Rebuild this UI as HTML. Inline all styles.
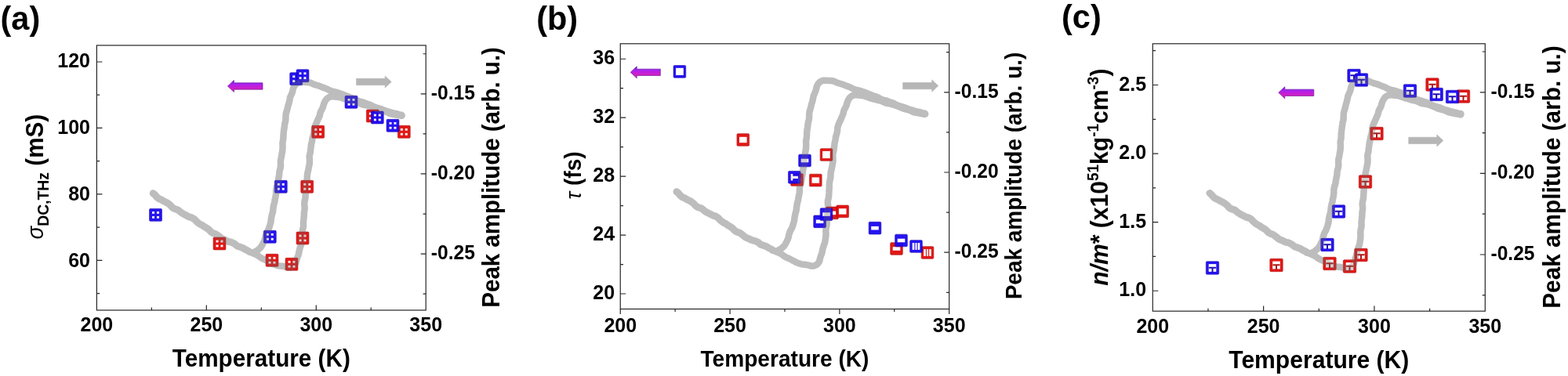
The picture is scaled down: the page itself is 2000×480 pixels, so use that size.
<!DOCTYPE html>
<html lang="en"><head><meta charset="utf-8"><title>Temperature dependence of THz conductivity parameters</title>
<style>html,body{margin:0;padding:0;background:#fff}body{width:2000px;height:480px;overflow:hidden}svg{display:block}</style>
</head><body>
<svg width="2000" height="480" viewBox="0 0 2000 480">
<defs><linearGradient id="purp" x1="0" y1="0" x2="0" y2="1"><stop offset="0" stop-color="#5a12c8"/><stop offset="0.3" stop-color="#a822f0"/><stop offset="0.6" stop-color="#c81ed2"/><stop offset="1" stop-color="#e02890"/></linearGradient></defs>
<rect width="2000" height="480" fill="#fff"/>
<g>
<defs><g id="curve-a" fill="none" stroke-width="8.4" stroke-linecap="round" stroke-linejoin="round">
<path d="M318.2,321.5 L320.4,322.3 L322.7,323.4 L325.1,324.3 L327.5,325.5 L329.8,326.9 L331.9,328.5 L334.1,329.8 L336.2,330.9 L338.3,331.7 L340.4,332.8 L342.6,334.0 L344.9,335.1 L347.3,336.5 L349.8,337.5 L352.3,338.4 L354.8,339.2 L357.4,339.6 L359.9,339.7 L362.4,340.2 L364.9,340.8 L367.3,341.5 L370.1,341.5 L372.5,340.6 L374.5,339.4 L376.2,337.6 L377.5,335.5 L378.0,333.0 L378.7,330.7 L379.4,328.4 L380.3,326.3 L381.0,324.1 L381.4,321.7 L381.9,319.3 L382.5,316.9 L383.4,314.4 L384.4,312.0 L384.9,309.5 L385.3,307.0 L385.6,304.6 L385.8,302.1 L385.9,299.7 L385.7,297.3 L385.9,294.8 L386.2,292.4 L386.9,289.9 L387.1,287.5 L386.9,285.0 L387.0,282.6 L387.3,280.2 L387.5,277.8 L387.8,275.4 L387.8,273.1 L387.9,270.7 L388.4,268.3 L388.7,265.9 L388.5,263.4 L388.2,260.9 L388.3,258.4 L388.8,255.9 L389.3,253.4 L389.6,250.9 L389.7,248.5 L389.8,245.9 L390.0,243.4 L390.3,241.0 L390.0,238.4 L390.2,235.9 L390.6,233.4 L391.2,230.8 L391.8,228.3 L391.7,225.7 L392.0,223.1 L392.3,220.6 L393.0,218.1 L393.5,215.5 L393.9,213.0 L394.5,210.5 L394.9,208.0 L394.9,205.5 L394.9,203.0 L394.6,200.4 L394.9,197.9 L395.6,195.5 L396.0,193.0 L396.2,190.4 L396.6,187.9 L396.8,185.3 L397.4,182.7 L398.0,180.1 L398.3,177.5 L398.9,175.0 L399.7,172.5 L400.2,170.0 L400.6,167.5 L400.7,164.9 L401.4,162.3 L402.3,159.9 L403.4,157.5 L404.5,155.0 L405.5,152.5 L406.7,150.1 L407.8,147.6 L408.3,145.0 L409.1,142.3 L410.4,139.9 L411.7,137.4 L412.5,134.8 L413.2,132.3 L414.2,130.0 L415.4,128.0 L416.8,126.1 L418.7,124.8 L420.7,123.7 L423.0,123.2 L425.3,123.2 L427.6,123.5 L430.1,123.7 L432.5,124.2 L435.1,124.5 L437.5,125.5 L439.9,126.3 L442.4,127.3 L444.9,127.9 L447.4,128.5 L449.9,129.3 L452.4,130.0 L455.0,130.4 L457.5,131.2 L459.9,132.4 L462.2,133.5 L464.8,134.1 L467.5,134.4 L470.0,135.1 L472.6,135.8 L475.1,136.7 L477.5,137.6 L480.0,138.6 L482.4,139.7 L484.9,140.7 L487.4,141.4 L490.0,142.0 L492.5,142.7 L494.8,143.8 L497.1,144.9 L499.6,145.6 L502.0,146.0 L504.4,146.5 L506.6,146.9 L508.9,147.2 L511.1,147.5"/>
<path d="M511.4,147.2 L509.2,146.3 L506.9,145.4 L504.5,144.9 L502.1,144.5 L499.7,143.8 L497.2,143.1 L494.8,142.3 L492.3,141.7 L489.8,140.8 L487.5,139.6 L485.0,138.7 L482.4,138.0 L479.8,137.4 L477.3,136.5 L475.0,135.3 L472.8,134.0 L470.4,133.2 L468.1,132.4 L465.9,131.6 L463.6,130.7 L461.3,130.2 L459.0,129.5 L456.7,128.8 L454.5,127.6 L452.3,126.4 L449.9,125.4 L447.4,124.6 L444.9,123.7 L442.4,122.6 L440.0,121.6 L437.5,120.7 L435.0,119.8 L432.5,118.9 L430.0,118.0 L427.4,117.4 L424.8,116.8 L422.2,116.2 L419.8,115.0 L417.4,113.8 L415.0,112.7 L412.4,111.8 L410.0,110.8 L407.5,109.8 L404.8,109.0 L402.2,108.3 L399.6,107.3 L397.0,106.1 L394.2,105.2 L391.3,105.0 L388.3,104.9 L385.3,104.6 L382.2,104.7 L379.5,105.8 L377.2,107.5 L375.4,109.8 L374.2,112.4 L373.5,115.0 L373.0,117.5 L372.0,119.9 L371.0,122.2 L369.9,124.6 L369.6,127.1 L369.0,129.7 L368.4,132.2 L367.5,134.8 L366.9,137.4 L366.3,139.9 L365.6,142.4 L364.8,144.9 L364.5,147.4 L364.4,150.0 L364.4,152.6 L364.1,155.1 L363.3,157.5 L363.0,160.0 L362.7,162.5 L362.3,165.0 L361.9,167.5 L361.7,170.0 L361.5,172.5 L361.4,175.0 L361.3,177.5 L360.8,180.1 L360.4,182.6 L360.5,185.2 L360.6,187.8 L360.4,190.3 L360.2,192.8 L359.8,195.2 L359.3,197.6 L359.0,200.0 L358.5,202.3 L358.0,204.7 L357.9,207.1 L358.0,209.5 L358.0,212.0 L357.7,214.4 L357.0,216.7 L356.5,219.1 L356.2,221.5 L356.0,224.0 L355.6,226.4 L355.1,228.8 L354.7,231.2 L354.4,233.6 L353.9,235.9 L353.0,238.2 L352.6,240.6 L352.1,242.9 L352.2,245.4 L352.1,247.8 L351.6,250.2 L351.3,252.5 L350.6,254.9 L350.4,257.3 L349.8,259.6 L349.1,261.9 L348.7,264.4 L348.4,266.8 L348.2,269.3 L347.7,271.7 L346.9,274.1 L346.4,276.5 L345.9,279.0 L345.6,281.4 L345.4,283.8 L344.6,286.1 L344.1,288.4 L343.2,290.6 L342.5,292.9 L341.4,295.0 L340.2,297.2 L339.3,299.5 L338.6,301.9 L338.1,304.5 L337.3,306.9 L336.2,309.4 L334.9,311.9 L333.6,314.2 L332.1,316.4 L330.2,318.0 L328.4,319.6 L326.4,320.7 L324.4,321.8 L322.4,322.7"/>
<path d="M195.3,246.8 L197.4,248.4 L199.0,250.5 L200.8,252.3 L202.8,253.7 L205.2,254.6 L207.3,255.9 L209.5,257.1 L211.8,258.2 L214.0,259.4 L216.1,261.0 L218.0,262.7 L219.6,264.7 L221.7,266.1 L224.0,267.0 L226.4,267.7 L228.4,269.1 L230.2,270.6 L232.1,272.0 L234.1,273.2 L236.2,274.2 L238.2,275.3 L240.2,276.4 L242.4,277.2 L244.6,277.8 L246.6,279.0 L248.5,280.3 L250.1,282.2 L251.9,283.8 L253.8,285.4 L256.0,286.6 L258.3,287.7 L260.3,289.3 L262.5,290.4 L264.5,291.8 L266.6,293.2 L268.2,295.1 L270.1,296.7 L272.3,298.0 L274.8,298.7 L277.0,299.9 L279.0,301.5 L281.0,303.1 L283.0,304.7 L285.4,305.7 L287.7,306.7 L289.9,307.9 L292.3,308.7 L294.8,309.2 L297.1,310.2 L299.3,311.3 L301.2,313.0 L303.2,314.4 L305.6,315.0 L307.9,315.9 L310.2,316.7 L312.1,318.1 L314.2,319.2 L316.3,320.1 L318.2,321.5" stroke-width="9"/>
<path d="M511.97,147.39 h0.01" stroke-width="9.8"/>
</g></defs>
<use href="#curve-a" stroke="#e0e0e0"/>
<rect x="123.4" y="57.9" width="419.8" height="338.1" fill="none" stroke="#262626" stroke-width="1.2"/>
<path d="M123.4,374.57 h3.8 M123.4,332.35 h7 M123.4,290.12 h3.8 M123.4,247.9 h7 M123.4,205.68 h3.8 M123.4,163.45 h7 M123.4,121.22 h3.8 M123.4,79 h7 M543.2,68.73 h-3.6 M543.2,119.8 h-6.5 M543.2,170.88 h-3.6 M543.2,221.95 h-6.5 M543.2,273.03 h-3.6 M543.2,324.1 h-6.5 M543.2,375.18 h-3.6 M193.37,396.0 v-3.4 M263.33,396.0 v-6.6 M333.3,396.0 v-3.4 M403.27,396.0 v-6.6 M473.23,396.0 v-3.4" stroke="#262626" stroke-width="1.2" fill="none"/>
<g font-family="'Liberation Sans', Arial, Helvetica, sans-serif" font-weight="bold" fill="#000">
<text transform="translate(115,340.5) scale(1,1.06)" font-size="25" text-anchor="end">60</text>
<text transform="translate(115,255.62) scale(1,1.06)" font-size="25" text-anchor="end">80</text>
<text transform="translate(115,170.73) scale(1,1.06)" font-size="25" text-anchor="end">100</text>
<text transform="translate(115,85.85) scale(1,1.06)" font-size="25" text-anchor="end">120</text>
<text transform="translate(549.8,126.8) scale(1,1.06)" font-size="24.6" text-anchor="start">-0.15</text>
<text transform="translate(549.8,228.95) scale(1,1.06)" font-size="24.6" text-anchor="start">-0.20</text>
<text transform="translate(549.8,331.1) scale(1,1.06)" font-size="24.6" text-anchor="start">-0.25</text>
<text transform="translate(123.4,422.7) scale(1,1.06)" font-size="25" text-anchor="middle">200</text>
<text transform="translate(263.33,422.7) scale(1,1.06)" font-size="25" text-anchor="middle">250</text>
<text transform="translate(403.27,422.7) scale(1,1.06)" font-size="25" text-anchor="middle">300</text>
<text transform="translate(543.2,422.7) scale(1,1.06)" font-size="25" text-anchor="middle">350</text>
<text transform="translate(333.3,467.5) scale(1,1.04)" font-size="29.7" text-anchor="middle">Temperature (K)</text>
<text transform="translate(636.6,226.4) rotate(-90) scale(1,1.04)" font-size="29.5" text-anchor="middle">Peak amplitude (arb. u.)</text>
<text transform="translate(55,225.6) rotate(-90) scale(1,1.04)" font-size="29.7" text-anchor="middle"><tspan font-style="italic" font-weight="normal" font-size="27.5">σ</tspan><tspan font-size="19.4" dy="6.7">DC,THz</tspan><tspan dy="-6.7"> (mS)</tspan></text>
<text transform="translate(0.5,37.5) scale(1,1.03)" font-size="41.5" text-anchor="start">(a)</text>
</g>
<g transform="translate(280,311)" opacity="0.95"><rect x="-7.95" y="-7.95" width="15.9" height="15.9" rx="1.3" fill="#e00c0a" stroke="#a80c0c" stroke-width="0.6"/><rect x="-4.45" y="-4.35" width="3" height="2.8" fill="#fff"/><rect x="-4.45" y="1.55" width="3" height="2.8" fill="#fff"/><rect x="1.45" y="-4.35" width="3" height="2.8" fill="#fff"/><rect x="1.45" y="1.55" width="3" height="2.8" fill="#fff"/></g>
<g transform="translate(347,332.3)" opacity="0.95"><rect x="-7.95" y="-7.95" width="15.9" height="15.9" rx="1.3" fill="#e00c0a" stroke="#a80c0c" stroke-width="0.6"/><rect x="-4.45" y="-4.35" width="3" height="2.8" fill="#fff"/><rect x="-4.45" y="1.55" width="3" height="2.8" fill="#fff"/><rect x="1.45" y="-4.35" width="3" height="2.8" fill="#fff"/><rect x="1.45" y="1.55" width="3" height="2.8" fill="#fff"/></g>
<g transform="translate(372,337.3)" opacity="0.95"><rect x="-7.95" y="-7.95" width="15.9" height="15.9" rx="1.3" fill="#e00c0a" stroke="#a80c0c" stroke-width="0.6"/><rect x="-4.45" y="-4.35" width="3" height="2.8" fill="#fff"/><rect x="-4.45" y="1.55" width="3" height="2.8" fill="#fff"/><rect x="1.45" y="-4.35" width="3" height="2.8" fill="#fff"/><rect x="1.45" y="1.55" width="3" height="2.8" fill="#fff"/></g>
<g transform="translate(386,304)" opacity="0.95"><rect x="-7.95" y="-7.95" width="15.9" height="15.9" rx="1.3" fill="#e00c0a" stroke="#a80c0c" stroke-width="0.6"/><rect x="-4.45" y="-4.35" width="3" height="2.8" fill="#fff"/><rect x="-4.45" y="1.55" width="3" height="2.8" fill="#fff"/><rect x="1.45" y="-4.35" width="3" height="2.8" fill="#fff"/><rect x="1.45" y="1.55" width="3" height="2.8" fill="#fff"/></g>
<g transform="translate(391.7,238.3)" opacity="0.95"><rect x="-7.95" y="-7.95" width="15.9" height="15.9" rx="1.3" fill="#e00c0a" stroke="#a80c0c" stroke-width="0.6"/><rect x="-4.45" y="-4.35" width="3" height="2.8" fill="#fff"/><rect x="-4.45" y="1.55" width="3" height="2.8" fill="#fff"/><rect x="1.45" y="-4.35" width="3" height="2.8" fill="#fff"/><rect x="1.45" y="1.55" width="3" height="2.8" fill="#fff"/></g>
<g transform="translate(405.7,168.3)" opacity="0.95"><rect x="-7.95" y="-7.95" width="15.9" height="15.9" rx="1.3" fill="#e00c0a" stroke="#a80c0c" stroke-width="0.6"/><rect x="-4.45" y="-4.35" width="3" height="2.8" fill="#fff"/><rect x="-4.45" y="1.55" width="3" height="2.8" fill="#fff"/><rect x="1.45" y="-4.35" width="3" height="2.8" fill="#fff"/><rect x="1.45" y="1.55" width="3" height="2.8" fill="#fff"/></g>
<g transform="translate(475.3,148)" opacity="0.95"><rect x="-7.95" y="-7.95" width="15.9" height="15.9" rx="1.3" fill="#e00c0a" stroke="#a80c0c" stroke-width="0.6"/><rect x="-4.45" y="-4.35" width="3" height="2.8" fill="#fff"/><rect x="-4.45" y="1.55" width="3" height="2.8" fill="#fff"/><rect x="1.45" y="-4.35" width="3" height="2.8" fill="#fff"/><rect x="1.45" y="1.55" width="3" height="2.8" fill="#fff"/></g>
<g transform="translate(515.3,168.3)" opacity="0.95"><rect x="-7.95" y="-7.95" width="15.9" height="15.9" rx="1.3" fill="#e00c0a" stroke="#a80c0c" stroke-width="0.6"/><rect x="-4.45" y="-4.35" width="3" height="2.8" fill="#fff"/><rect x="-4.45" y="1.55" width="3" height="2.8" fill="#fff"/><rect x="1.45" y="-4.35" width="3" height="2.8" fill="#fff"/><rect x="1.45" y="1.55" width="3" height="2.8" fill="#fff"/></g>
<g transform="translate(198.5,274.4)" opacity="0.95"><rect x="-7.95" y="-7.95" width="15.9" height="15.9" rx="1.3" fill="#1a08f0" stroke="#1400b0" stroke-width="0.6"/><rect x="-4.45" y="-4.35" width="3" height="2.8" fill="#fff"/><rect x="-4.45" y="1.55" width="3" height="2.8" fill="#fff"/><rect x="1.45" y="-4.35" width="3" height="2.8" fill="#fff"/><rect x="1.45" y="1.55" width="3" height="2.8" fill="#fff"/></g>
<g transform="translate(344.3,302.3)" opacity="0.95"><rect x="-7.95" y="-7.95" width="15.9" height="15.9" rx="1.3" fill="#1a08f0" stroke="#1400b0" stroke-width="0.6"/><rect x="-4.45" y="-4.35" width="3" height="2.8" fill="#fff"/><rect x="-4.45" y="1.55" width="3" height="2.8" fill="#fff"/><rect x="1.45" y="-4.35" width="3" height="2.8" fill="#fff"/><rect x="1.45" y="1.55" width="3" height="2.8" fill="#fff"/></g>
<g transform="translate(358.3,238.3)" opacity="0.95"><rect x="-7.95" y="-7.95" width="15.9" height="15.9" rx="1.3" fill="#1a08f0" stroke="#1400b0" stroke-width="0.6"/><rect x="-4.45" y="-4.35" width="3" height="2.8" fill="#fff"/><rect x="-4.45" y="1.55" width="3" height="2.8" fill="#fff"/><rect x="1.45" y="-4.35" width="3" height="2.8" fill="#fff"/><rect x="1.45" y="1.55" width="3" height="2.8" fill="#fff"/></g>
<g transform="translate(377.7,100.7)" opacity="0.95"><rect x="-7.95" y="-7.95" width="15.9" height="15.9" rx="1.3" fill="#1a08f0" stroke="#1400b0" stroke-width="0.6"/><rect x="-4.45" y="-4.35" width="3" height="2.8" fill="#fff"/><rect x="-4.45" y="1.55" width="3" height="2.8" fill="#fff"/><rect x="1.45" y="-4.35" width="3" height="2.8" fill="#fff"/><rect x="1.45" y="1.55" width="3" height="2.8" fill="#fff"/></g>
<g transform="translate(386,96.7)" opacity="0.95"><rect x="-7.95" y="-7.95" width="15.9" height="15.9" rx="1.3" fill="#1a08f0" stroke="#1400b0" stroke-width="0.6"/><rect x="-4.45" y="-4.35" width="3" height="2.8" fill="#fff"/><rect x="-4.45" y="1.55" width="3" height="2.8" fill="#fff"/><rect x="1.45" y="-4.35" width="3" height="2.8" fill="#fff"/><rect x="1.45" y="1.55" width="3" height="2.8" fill="#fff"/></g>
<g transform="translate(448,130.3)" opacity="0.95"><rect x="-7.95" y="-7.95" width="15.9" height="15.9" rx="1.3" fill="#1a08f0" stroke="#1400b0" stroke-width="0.6"/><rect x="-4.45" y="-4.35" width="3" height="2.8" fill="#fff"/><rect x="-4.45" y="1.55" width="3" height="2.8" fill="#fff"/><rect x="1.45" y="-4.35" width="3" height="2.8" fill="#fff"/><rect x="1.45" y="1.55" width="3" height="2.8" fill="#fff"/></g>
<g transform="translate(481.3,150)" opacity="0.95"><rect x="-7.95" y="-7.95" width="15.9" height="15.9" rx="1.3" fill="#1a08f0" stroke="#1400b0" stroke-width="0.6"/><rect x="-4.45" y="-4.35" width="3" height="2.8" fill="#fff"/><rect x="-4.45" y="1.55" width="3" height="2.8" fill="#fff"/><rect x="1.45" y="-4.35" width="3" height="2.8" fill="#fff"/><rect x="1.45" y="1.55" width="3" height="2.8" fill="#fff"/></g>
<g transform="translate(501,160.3)" opacity="0.95"><rect x="-7.95" y="-7.95" width="15.9" height="15.9" rx="1.3" fill="#1a08f0" stroke="#1400b0" stroke-width="0.6"/><rect x="-4.45" y="-4.35" width="3" height="2.8" fill="#fff"/><rect x="-4.45" y="1.55" width="3" height="2.8" fill="#fff"/><rect x="1.45" y="-4.35" width="3" height="2.8" fill="#fff"/><rect x="1.45" y="1.55" width="3" height="2.8" fill="#fff"/></g>
<use href="#curve-a" stroke="#6e6e6e" opacity="0.3"/>
<path d="M290.4,110 L298.4,102.5 L298.4,105.85 L335,105.85 L335,114.15 L298.4,114.15 L298.4,117.5 Z" fill="url(#purp)" stroke="#6a1aa8" stroke-width="0.7" stroke-linejoin="miter"/>
<path d="M499.2,104.5 L491.2,97 L491.2,100.35 L454.6,100.35 L454.6,108.65 L491.2,108.65 L491.2,112 Z" fill="#b6b6b6" stroke="#b6b6b6" stroke-width="0.7"/>
</g>
<g>
<defs><g id="curve-b" fill="none" stroke-width="8.4" stroke-linecap="round" stroke-linejoin="round">
<path d="M985.8,319.6 L988.1,320.4 L990.4,321.5 L992.8,322.4 L995.2,323.6 L997.5,325.0 L999.6,326.6 L1001.7,327.9 L1003.9,329.0 L1006.0,329.8 L1008.1,330.9 L1010.3,332.1 L1012.6,333.2 L1014.9,334.6 L1017.5,335.6 L1020.0,336.5 L1022.5,337.3 L1025.1,337.7 L1027.6,337.8 L1030.1,338.3 L1032.5,338.9 L1035.0,339.6 L1037.8,339.6 L1040.1,338.7 L1042.2,337.5 L1043.8,335.7 L1045.2,333.6 L1045.7,331.1 L1046.3,328.8 L1047.0,326.6 L1047.9,324.4 L1048.6,322.2 L1049.0,319.8 L1049.5,317.4 L1050.2,315.0 L1051.1,312.5 L1052.0,310.1 L1052.5,307.6 L1052.9,305.1 L1053.3,302.6 L1053.4,300.2 L1053.6,297.8 L1053.3,295.3 L1053.5,292.9 L1053.8,290.5 L1054.5,288.0 L1054.8,285.5 L1054.6,283.1 L1054.6,280.6 L1055.0,278.3 L1055.1,275.9 L1055.5,273.5 L1055.5,271.1 L1055.6,268.7 L1056.0,266.4 L1056.3,263.9 L1056.1,261.5 L1055.8,259.0 L1055.9,256.5 L1056.5,254.0 L1057.0,251.5 L1057.2,249.0 L1057.4,246.5 L1057.5,244.0 L1057.6,241.5 L1057.9,239.0 L1057.7,236.5 L1057.9,233.9 L1058.3,231.4 L1058.8,228.9 L1059.4,226.4 L1059.4,223.7 L1059.6,221.2 L1059.9,218.6 L1060.7,216.1 L1061.1,213.6 L1061.6,211.1 L1062.1,208.6 L1062.5,206.1 L1062.5,203.5 L1062.5,201.0 L1062.2,198.4 L1062.5,196.0 L1063.2,193.5 L1063.6,191.0 L1063.8,188.5 L1064.2,185.9 L1064.5,183.3 L1065.0,180.7 L1065.6,178.1 L1065.9,175.5 L1066.6,173.0 L1067.3,170.6 L1067.9,168.1 L1068.2,165.5 L1068.3,162.9 L1069.0,160.4 L1069.9,157.9 L1071.0,155.5 L1072.2,153.1 L1073.2,150.6 L1074.3,148.1 L1075.4,145.6 L1075.9,143.0 L1076.7,140.3 L1078.0,137.9 L1079.3,135.4 L1080.1,132.9 L1080.8,130.3 L1081.8,128.0 L1083.0,126.0 L1084.4,124.1 L1086.3,122.8 L1088.3,121.7 L1090.6,121.2 L1092.9,121.2 L1095.2,121.5 L1097.6,121.7 L1100.1,122.2 L1102.7,122.5 L1105.1,123.5 L1107.5,124.3 L1110.0,125.3 L1112.5,125.9 L1115.0,126.6 L1117.5,127.3 L1120.0,128.0 L1122.6,128.4 L1125.0,129.2 L1127.4,130.4 L1129.8,131.5 L1132.4,132.1 L1135.0,132.4 L1137.6,133.1 L1140.1,133.8 L1142.6,134.7 L1145.1,135.6 L1147.5,136.6 L1150.0,137.7 L1152.4,138.7 L1155.0,139.4 L1157.5,140.0 L1160.0,140.7 L1162.4,141.8 L1164.7,142.9 L1167.1,143.6 L1169.6,144.0 L1171.9,144.5 L1174.2,145.0 L1176.4,145.3 L1178.6,145.5"/>
<path d="M1178.9,145.2 L1176.7,144.3 L1174.4,143.4 L1172.0,142.9 L1169.6,142.5 L1167.2,141.8 L1164.8,141.1 L1162.4,140.3 L1159.8,139.7 L1157.4,138.8 L1155.0,137.6 L1152.5,136.7 L1150.0,136.0 L1147.4,135.4 L1144.9,134.5 L1142.5,133.4 L1140.3,132.0 L1138.0,131.2 L1135.7,130.4 L1133.4,129.6 L1131.2,128.7 L1128.8,128.2 L1126.5,127.5 L1124.3,126.8 L1122.1,125.6 L1119.9,124.4 L1117.5,123.4 L1115.0,122.7 L1112.4,121.7 L1110.0,120.7 L1107.6,119.6 L1105.0,118.7 L1102.6,117.8 L1100.0,116.9 L1097.6,116.0 L1095.0,115.4 L1092.4,114.8 L1089.8,114.2 L1087.4,113.0 L1085.0,111.8 L1082.6,110.7 L1080.1,109.8 L1077.6,108.8 L1075.1,107.8 L1072.5,107.0 L1069.8,106.3 L1067.2,105.3 L1064.6,104.1 L1061.9,103.2 L1058.9,103.0 L1056.0,102.9 L1052.9,102.6 L1049.9,102.7 L1047.2,103.8 L1044.8,105.5 L1043.0,107.8 L1041.8,110.4 L1041.2,113.0 L1040.6,115.5 L1039.6,117.9 L1038.7,120.2 L1037.6,122.6 L1037.2,125.1 L1036.6,127.7 L1036.0,130.3 L1035.1,132.8 L1034.6,135.4 L1033.9,137.9 L1033.2,140.4 L1032.4,142.9 L1032.2,145.4 L1032.1,148.0 L1032.1,150.6 L1031.8,153.1 L1031.0,155.5 L1030.6,158.0 L1030.3,160.5 L1030.0,163.0 L1029.5,165.5 L1029.3,168.0 L1029.1,170.5 L1029.1,173.0 L1028.9,175.5 L1028.4,178.1 L1028.0,180.7 L1028.2,183.3 L1028.2,185.9 L1028.1,188.4 L1027.9,190.8 L1027.4,193.2 L1027.0,195.6 L1026.7,198.0 L1026.2,200.4 L1025.6,202.7 L1025.6,205.2 L1025.6,207.6 L1025.7,210.0 L1025.3,212.4 L1024.7,214.8 L1024.1,217.2 L1023.9,219.6 L1023.7,222.0 L1023.3,224.4 L1022.8,226.8 L1022.4,229.2 L1022.1,231.6 L1021.5,234.0 L1020.7,236.3 L1020.2,238.6 L1019.8,241.0 L1019.9,243.5 L1019.7,245.9 L1019.3,248.2 L1018.9,250.6 L1018.3,252.9 L1018.1,255.3 L1017.4,257.7 L1016.8,260.0 L1016.4,262.4 L1016.0,264.9 L1015.8,267.4 L1015.4,269.8 L1014.6,272.2 L1014.1,274.6 L1013.6,277.1 L1013.3,279.5 L1013.0,281.9 L1012.3,284.2 L1011.7,286.5 L1010.9,288.7 L1010.2,291.0 L1009.0,293.1 L1007.8,295.2 L1007.0,297.6 L1006.2,300.0 L1005.8,302.6 L1005.0,305.0 L1003.8,307.5 L1002.6,310.0 L1001.3,312.3 L999.8,314.5 L997.8,316.1 L996.1,317.7 L994.1,318.8 L992.1,319.9 L990.1,320.8"/>
<path d="M863.1,244.8 L865.2,246.4 L866.8,248.5 L868.6,250.3 L870.6,251.8 L873.0,252.7 L875.1,254.0 L877.3,255.2 L879.6,256.3 L881.8,257.5 L883.8,259.0 L885.7,260.8 L887.4,262.8 L889.5,264.2 L891.8,265.1 L894.2,265.8 L896.2,267.1 L898.0,268.7 L899.9,270.1 L901.9,271.3 L903.9,272.3 L906.0,273.3 L908.0,274.4 L910.1,275.3 L912.4,275.9 L914.4,277.0 L916.3,278.4 L917.8,280.3 L919.7,281.9 L921.5,283.4 L923.7,284.7 L926.1,285.8 L928.0,287.4 L930.2,288.5 L932.3,289.9 L934.3,291.3 L935.9,293.2 L937.8,294.8 L940.0,296.1 L942.5,296.8 L944.7,298.0 L946.7,299.6 L948.7,301.2 L950.7,302.8 L953.1,303.8 L955.4,304.8 L957.6,306.0 L960.0,306.8 L962.5,307.3 L964.8,308.3 L967.0,309.3 L968.9,311.1 L970.9,312.5 L973.3,313.1 L975.5,314.0 L977.9,314.8 L979.8,316.2 L981.9,317.2 L984.0,318.2 L985.8,319.6" stroke-width="9"/>
<path d="M1179.5,145.4 h0.01" stroke-width="9.8"/>
</g></defs>
<use href="#curve-b" stroke="#e0e0e0"/>
<rect x="791.25" y="55.8" width="419.45" height="338.7" fill="none" stroke="#262626" stroke-width="1.2"/>
<path d="M791.25,375 h7 M791.25,337.53 h3.8 M791.25,300.06 h7 M791.25,262.59 h3.8 M791.25,225.12 h7 M791.25,187.66 h3.8 M791.25,150.19 h7 M791.25,112.72 h3.8 M791.25,75.25 h7 M1210.7,66.7 h-3.6 M1210.7,117.8 h-6.5 M1210.7,168.9 h-3.6 M1210.7,220 h-6.5 M1210.7,271.1 h-3.6 M1210.7,322.2 h-6.5 M1210.7,373.3 h-3.6 M791.25,394.5 v6.6 M861.16,394.5 v3.4 M931.07,394.5 v6.6 M1000.98,394.5 v3.4 M1070.88,394.5 v6.6 M1140.79,394.5 v3.4 M1210.7,394.5 v6.6" stroke="#262626" stroke-width="1.2" fill="none"/>
<g font-family="'Liberation Sans', Arial, Helvetica, sans-serif" font-weight="bold" fill="#000">
<text transform="translate(784.05,381.7) scale(1,1.06)" font-size="25" text-anchor="end">20</text>
<text transform="translate(784.05,306.8) scale(1,1.06)" font-size="25" text-anchor="end">24</text>
<text transform="translate(784.05,231.9) scale(1,1.06)" font-size="25" text-anchor="end">28</text>
<text transform="translate(784.05,157) scale(1,1.06)" font-size="25" text-anchor="end">32</text>
<text transform="translate(784.05,82.1) scale(1,1.06)" font-size="25" text-anchor="end">36</text>
<text transform="translate(1217.6,124.8) scale(1,1.06)" font-size="24.6" text-anchor="start">-0.15</text>
<text transform="translate(1217.6,227) scale(1,1.06)" font-size="24.6" text-anchor="start">-0.20</text>
<text transform="translate(1217.6,329.2) scale(1,1.06)" font-size="24.6" text-anchor="start">-0.25</text>
<text transform="translate(791.25,424.3) scale(1,1.06)" font-size="25" text-anchor="middle">200</text>
<text transform="translate(931.07,424.3) scale(1,1.06)" font-size="25" text-anchor="middle">250</text>
<text transform="translate(1070.88,424.3) scale(1,1.06)" font-size="25" text-anchor="middle">300</text>
<text transform="translate(1210.7,424.3) scale(1,1.06)" font-size="25" text-anchor="middle">350</text>
<text transform="translate(1000.98,467.5) scale(1,1.04)" font-size="28.1" text-anchor="middle">Temperature (K)</text>
<text transform="translate(1303.1,224.5) rotate(-90) scale(1,1.04)" font-size="28.0" text-anchor="middle">Peak amplitude (arb. u.)</text>
<text transform="translate(741.2,224) rotate(-90) scale(1,1.04)" font-size="28.1" text-anchor="middle"><tspan font-style="italic" font-weight="normal" font-size="26">τ</tspan> (fs)</text>
<text transform="translate(684.2,37.7) scale(1,1.03)" font-size="41.5" text-anchor="start">(b)</text>
</g>
<g transform="translate(947.8,178.5)" opacity="0.95"><rect x="-7.85" y="-7.85" width="15.7" height="15.7" rx="1.3" fill="#e00c0a" stroke="#a80c0c" stroke-width="0.6"/><rect x="-4.8" y="-3.7" width="9.6" height="7.4" fill="#fff"/></g>
<g transform="translate(1016.5,229.5)" opacity="0.95"><rect x="-7.85" y="-7.85" width="15.7" height="15.7" rx="1.3" fill="#e00c0a" stroke="#a80c0c" stroke-width="0.6"/><rect x="-4.8" y="-2.3" width="9.6" height="4.6" fill="#fff"/></g>
<g transform="translate(1040.3,230.1)" opacity="0.95"><rect x="-7.85" y="-7.85" width="15.7" height="15.7" rx="1.3" fill="#e00c0a" stroke="#a80c0c" stroke-width="0.6"/><rect x="-4.8" y="-3.7" width="9.6" height="7.4" fill="#fff"/></g>
<g transform="translate(1054,197.5)" opacity="0.95"><rect x="-7.85" y="-7.85" width="15.7" height="15.7" rx="1.3" fill="#e00c0a" stroke="#a80c0c" stroke-width="0.6"/><rect x="-4.9" y="-4.6" width="9.8" height="9.2" fill="#fff"/></g>
<g transform="translate(1061.5,271.9)" opacity="0.95"><rect x="-7.85" y="-7.85" width="15.7" height="15.7" rx="1.3" fill="#e00c0a" stroke="#a80c0c" stroke-width="0.6"/><rect x="-4.8" y="-2.3" width="9.6" height="4.6" fill="#fff"/></g>
<g transform="translate(1074.7,269.9)" opacity="0.95"><rect x="-7.85" y="-7.85" width="15.7" height="15.7" rx="1.3" fill="#e00c0a" stroke="#a80c0c" stroke-width="0.6"/><rect x="-4.8" y="-3.7" width="9.6" height="7.4" fill="#fff"/></g>
<g transform="translate(1143.5,317.5)" opacity="0.95"><rect x="-7.85" y="-7.85" width="15.7" height="15.7" rx="1.3" fill="#e00c0a" stroke="#a80c0c" stroke-width="0.6"/><rect x="-4.8" y="-2.3" width="9.6" height="4.6" fill="#fff"/></g>
<g transform="translate(1183,322.5)" opacity="0.95"><rect x="-7.85" y="-7.85" width="15.7" height="15.7" rx="1.3" fill="#e00c0a" stroke="#a80c0c" stroke-width="0.6"/><rect x="-4.8" y="-4.4" width="9.6" height="8.8" fill="#fff"/><path d="M-1.6,-4.4 V4.4 M1.6,-4.4 V4.4" stroke="#e00c0a" stroke-width="1.1" fill="none"/></g>
<g transform="translate(866.9,91.4)" opacity="0.95"><rect x="-7.85" y="-7.85" width="15.7" height="15.7" rx="1.3" fill="#1a08f0" stroke="#1400b0" stroke-width="0.6"/><rect x="-4.9" y="-4.6" width="9.8" height="9.2" fill="#fff"/></g>
<g transform="translate(1013.3,226.3)" opacity="0.95"><rect x="-7.85" y="-7.85" width="15.7" height="15.7" rx="1.3" fill="#1a08f0" stroke="#1400b0" stroke-width="0.6"/><path d="M-4.6,-1.6 H4.6 V1.6 H-4.6 Z M-4.6,-4.2 H-2 V4.2 H-4.6 Z" fill="#fff"/></g>
<g transform="translate(1026.5,205)" opacity="0.95"><rect x="-7.85" y="-7.85" width="15.7" height="15.7" rx="1.3" fill="#1a08f0" stroke="#1400b0" stroke-width="0.6"/><rect x="-4.8" y="-2.3" width="9.6" height="4.6" fill="#fff"/></g>
<g transform="translate(1045.6,282.8)" opacity="0.95"><rect x="-7.85" y="-7.85" width="15.7" height="15.7" rx="1.3" fill="#1a08f0" stroke="#1400b0" stroke-width="0.6"/><rect x="-4.8" y="-2.3" width="9.6" height="4.6" fill="#fff"/></g>
<g transform="translate(1054,273.6)" opacity="0.95"><rect x="-7.85" y="-7.85" width="15.7" height="15.7" rx="1.3" fill="#1a08f0" stroke="#1400b0" stroke-width="0.6"/><rect x="-4.8" y="-2.3" width="9.6" height="4.6" fill="#fff"/></g>
<g transform="translate(1116,291.2)" opacity="0.95"><rect x="-7.85" y="-7.85" width="15.7" height="15.7" rx="1.3" fill="#1a08f0" stroke="#1400b0" stroke-width="0.6"/><rect x="-4.8" y="-2.3" width="9.6" height="4.6" fill="#fff"/></g>
<g transform="translate(1149.5,307)" opacity="0.95"><rect x="-7.85" y="-7.85" width="15.7" height="15.7" rx="1.3" fill="#1a08f0" stroke="#1400b0" stroke-width="0.6"/><rect x="-4.8" y="-2.3" width="9.6" height="4.6" fill="#fff"/></g>
<g transform="translate(1168.5,314.5)" opacity="0.95"><rect x="-7.85" y="-7.85" width="15.7" height="15.7" rx="1.3" fill="#1a08f0" stroke="#1400b0" stroke-width="0.6"/><rect x="-4.8" y="-4.4" width="9.6" height="8.8" fill="#fff"/><path d="M-1.6,-4.4 V4.4 M1.6,-4.4 V4.4" stroke="#1a08f0" stroke-width="1.1" fill="none"/></g>
<use href="#curve-b" stroke="#6e6e6e" opacity="0.3"/>
<path d="M804.2,92.3 L812.2,84.8 L812.2,88.15 L842.3,88.15 L842.3,96.45 L812.2,96.45 L812.2,99.8 Z" fill="url(#purp)" stroke="#6a1aa8" stroke-width="0.7" stroke-linejoin="miter"/>
<path d="M1196.7,109.6 L1188.7,102.1 L1188.7,105.45 L1151.7,105.45 L1151.7,113.75 L1188.7,113.75 L1188.7,117.1 Z" fill="#b6b6b6" stroke="#b6b6b6" stroke-width="0.7"/>
</g>
<g>
<defs><g id="curve-c" fill="none" stroke-width="8.4" stroke-linecap="round" stroke-linejoin="round">
<path d="M1667.0,322.4 L1669.3,323.1 L1671.6,324.3 L1674.0,325.2 L1676.5,326.4 L1678.8,327.8 L1680.9,329.5 L1683.1,330.7 L1685.2,331.9 L1687.4,332.7 L1689.5,333.8 L1691.7,335.0 L1694.1,336.2 L1696.4,337.6 L1699.0,338.6 L1701.5,339.5 L1704.0,340.3 L1706.6,340.7 L1709.2,340.8 L1711.7,341.3 L1714.2,341.9 L1716.7,342.6 L1719.5,342.7 L1721.9,341.8 L1723.9,340.5 L1725.6,338.7 L1727.0,336.5 L1727.5,334.0 L1728.1,331.7 L1728.8,329.4 L1729.7,327.3 L1730.4,325.0 L1730.9,322.6 L1731.4,320.1 L1732.0,317.7 L1732.9,315.2 L1733.9,312.7 L1734.4,310.2 L1734.8,307.7 L1735.2,305.2 L1735.3,302.7 L1735.5,300.3 L1735.2,297.8 L1735.4,295.3 L1735.7,292.8 L1736.4,290.3 L1736.7,287.8 L1736.5,285.3 L1736.5,282.9 L1736.9,280.5 L1737.0,278.0 L1737.4,275.7 L1737.4,273.2 L1737.5,270.8 L1738.0,268.4 L1738.2,265.9 L1738.0,263.4 L1737.7,260.9 L1737.8,258.4 L1738.4,255.9 L1738.9,253.3 L1739.1,250.8 L1739.3,248.3 L1739.4,245.7 L1739.6,243.2 L1739.8,240.7 L1739.6,238.1 L1739.8,235.5 L1740.2,233.0 L1740.8,230.4 L1741.4,227.9 L1741.3,225.2 L1741.6,222.6 L1741.9,220.0 L1742.6,217.4 L1743.1,214.9 L1743.5,212.3 L1744.1,209.8 L1744.5,207.3 L1744.5,204.7 L1744.5,202.1 L1744.2,199.6 L1744.5,197.0 L1745.2,194.5 L1745.6,192.0 L1745.8,189.4 L1746.2,186.8 L1746.5,184.2 L1747.0,181.6 L1747.6,178.9 L1748.0,176.3 L1748.6,173.8 L1749.3,171.3 L1749.9,168.8 L1750.2,166.2 L1750.3,163.5 L1751.0,160.9 L1752.0,158.5 L1753.1,156.0 L1754.2,153.5 L1755.3,151.0 L1756.4,148.5 L1757.5,146.0 L1758.1,143.3 L1758.8,140.7 L1760.2,138.2 L1761.5,135.7 L1762.3,133.1 L1763.0,130.5 L1764.0,128.2 L1765.3,126.1 L1766.6,124.2 L1768.5,122.9 L1770.6,121.7 L1772.9,121.2 L1775.2,121.3 L1777.6,121.6 L1780.0,121.8 L1782.5,122.2 L1785.1,122.5 L1787.5,123.5 L1790.0,124.4 L1792.5,125.4 L1795.1,126.0 L1797.6,126.7 L1800.1,127.4 L1802.6,128.2 L1805.2,128.6 L1807.7,129.4 L1810.1,130.6 L1812.5,131.7 L1815.1,132.3 L1817.8,132.6 L1820.4,133.3 L1823.0,134.0 L1825.5,134.9 L1828.0,135.9 L1830.4,136.9 L1832.9,138.0 L1835.4,139.0 L1838.0,139.7 L1840.5,140.3 L1843.1,141.0 L1845.4,142.1 L1847.8,143.3 L1850.2,143.9 L1852.7,144.3 L1855.1,144.8 L1857.4,145.3 L1859.6,145.6 L1861.8,145.9"/>
<path d="M1862.2,145.6 L1859.9,144.7 L1857.6,143.8 L1855.2,143.3 L1852.8,142.8 L1850.3,142.2 L1847.9,141.4 L1845.4,140.6 L1842.9,140.0 L1840.4,139.1 L1838.0,137.9 L1835.5,137.0 L1832.9,136.3 L1830.3,135.6 L1827.8,134.7 L1825.4,133.6 L1823.2,132.2 L1820.8,131.3 L1818.5,130.5 L1816.2,129.7 L1813.9,128.9 L1811.5,128.3 L1809.2,127.6 L1806.9,126.9 L1804.7,125.8 L1802.5,124.4 L1800.1,123.5 L1797.5,122.7 L1795.0,121.8 L1792.5,120.7 L1790.0,119.6 L1787.5,118.7 L1785.0,117.8 L1782.4,116.9 L1779.9,116.0 L1777.3,115.3 L1774.7,114.8 L1772.1,114.1 L1769.6,113.0 L1767.3,111.7 L1764.8,110.6 L1762.2,109.7 L1759.7,108.7 L1757.2,107.6 L1754.6,106.9 L1751.9,106.1 L1749.3,105.1 L1746.6,104.0 L1743.8,103.0 L1740.9,102.8 L1737.9,102.7 L1734.8,102.4 L1731.7,102.5 L1729.0,103.6 L1726.6,105.3 L1724.8,107.6 L1723.6,110.3 L1722.9,112.9 L1722.4,115.5 L1721.4,117.9 L1720.4,120.3 L1719.3,122.6 L1718.9,125.2 L1718.3,127.8 L1717.7,130.4 L1716.8,133.0 L1716.2,135.6 L1715.6,138.2 L1714.9,140.7 L1714.1,143.2 L1713.8,145.8 L1713.7,148.4 L1713.7,151.0 L1713.4,153.6 L1712.6,156.0 L1712.3,158.6 L1711.9,161.1 L1711.6,163.6 L1711.2,166.1 L1711.0,168.7 L1710.7,171.2 L1710.7,173.8 L1710.6,176.3 L1710.1,178.9 L1709.6,181.5 L1709.8,184.2 L1709.8,186.8 L1709.7,189.3 L1709.5,191.8 L1709.1,194.3 L1708.6,196.7 L1708.3,199.1 L1707.8,201.5 L1707.2,203.9 L1707.1,206.3 L1707.2,208.8 L1707.3,211.3 L1706.9,213.7 L1706.3,216.1 L1705.7,218.5 L1705.5,221.0 L1705.3,223.5 L1704.8,225.9 L1704.3,228.3 L1703.9,230.7 L1703.6,233.2 L1703.1,235.6 L1702.2,237.9 L1701.7,240.3 L1701.3,242.7 L1701.4,245.2 L1701.2,247.6 L1700.8,250.0 L1700.5,252.4 L1699.8,254.8 L1699.6,257.2 L1698.9,259.6 L1698.3,262.0 L1697.8,264.4 L1697.5,266.9 L1697.3,269.4 L1696.9,271.9 L1696.1,274.3 L1695.5,276.8 L1695.1,279.2 L1694.7,281.7 L1694.5,284.2 L1693.7,286.5 L1693.2,288.8 L1692.3,291.0 L1691.6,293.3 L1690.4,295.5 L1689.2,297.7 L1688.4,300.0 L1687.6,302.5 L1687.2,305.1 L1686.3,307.6 L1685.2,310.1 L1684.0,312.6 L1682.6,315.0 L1681.1,317.2 L1679.1,318.8 L1677.4,320.5 L1675.3,321.6 L1673.4,322.7 L1671.3,323.6"/>
<path d="M1543.0,246.6 L1545.0,248.2 L1546.7,250.3 L1548.5,252.1 L1550.5,253.6 L1552.9,254.5 L1555.1,255.8 L1557.3,257.0 L1559.6,258.1 L1561.8,259.4 L1563.9,261.0 L1565.8,262.7 L1567.5,264.8 L1569.6,266.2 L1571.9,267.1 L1574.4,267.8 L1576.4,269.2 L1578.2,270.8 L1580.1,272.1 L1582.1,273.4 L1584.2,274.4 L1586.3,275.5 L1588.3,276.6 L1590.4,277.5 L1592.8,278.0 L1594.8,279.2 L1596.7,280.6 L1598.3,282.5 L1600.1,284.1 L1602.0,285.7 L1604.2,287.0 L1606.6,288.1 L1608.5,289.7 L1610.8,290.9 L1612.8,292.2 L1614.9,293.7 L1616.6,295.6 L1618.5,297.2 L1620.7,298.5 L1623.2,299.2 L1625.4,300.5 L1627.5,302.1 L1629.5,303.8 L1631.5,305.3 L1633.9,306.4 L1636.3,307.3 L1638.5,308.6 L1640.9,309.4 L1643.4,309.9 L1645.7,310.9 L1647.9,312.0 L1649.8,313.7 L1651.9,315.1 L1654.3,315.8 L1656.6,316.7 L1658.9,317.5 L1660.9,318.9 L1663.0,320.0 L1665.1,320.9 L1667.0,322.4" stroke-width="9"/>
<path d="M1862.76,145.77 h0.01" stroke-width="9.8"/>
</g></defs>
<use href="#curve-c" stroke="#e0e0e0"/>
<rect x="1470.3" y="55.8" width="424" height="341.4" fill="none" stroke="#262626" stroke-width="1.2"/>
<path d="M1470.3,371.25 h7 M1470.3,327.46 h3.8 M1470.3,283.67 h7 M1470.3,239.88 h3.8 M1470.3,196.08 h7 M1470.3,152.29 h3.8 M1470.3,108.5 h7 M1470.3,64.71 h3.8 M1894.3,66 h-3.6 M1894.3,117.8 h-6.5 M1894.3,169.6 h-3.6 M1894.3,221.4 h-6.5 M1894.3,273.2 h-3.6 M1894.3,325 h-6.5 M1894.3,376.8 h-3.6 M1540.97,397.2 v-3.4 M1611.63,397.2 v-6.6 M1682.3,397.2 v-3.4 M1752.97,397.2 v-6.6 M1823.63,397.2 v-3.4" stroke="#262626" stroke-width="1.2" fill="none"/>
<g font-family="'Liberation Sans', Arial, Helvetica, sans-serif" font-weight="bold" fill="#000">
<text transform="translate(1462.1,378.1) scale(1,1.06)" font-size="25" text-anchor="end">1.0</text>
<text transform="translate(1462.1,290.57) scale(1,1.06)" font-size="25" text-anchor="end">1.5</text>
<text transform="translate(1462.1,203.03) scale(1,1.06)" font-size="25" text-anchor="end">2.0</text>
<text transform="translate(1462.1,115.5) scale(1,1.06)" font-size="25" text-anchor="end">2.5</text>
<text transform="translate(1901.5,124.8) scale(1,1.06)" font-size="24.6" text-anchor="start">-0.15</text>
<text transform="translate(1901.5,228.4) scale(1,1.06)" font-size="24.6" text-anchor="start">-0.20</text>
<text transform="translate(1901.5,332) scale(1,1.06)" font-size="24.6" text-anchor="start">-0.25</text>
<text transform="translate(1470.3,424.8) scale(1,1.06)" font-size="25" text-anchor="middle">200</text>
<text transform="translate(1611.63,424.8) scale(1,1.06)" font-size="25" text-anchor="middle">250</text>
<text transform="translate(1752.97,424.8) scale(1,1.06)" font-size="25" text-anchor="middle">300</text>
<text transform="translate(1894.3,424.8) scale(1,1.06)" font-size="25" text-anchor="middle">350</text>
<text transform="translate(1682.3,469.5) scale(1,1.04)" font-size="30.1" text-anchor="middle">Temperature (K)</text>
<text transform="translate(1989.8,226) rotate(-90) scale(1,1.04)" font-size="29.75" text-anchor="middle">Peak amplitude (arb. u.)</text>
<text transform="translate(1413.2,226.2) rotate(-90) scale(1,1.04)" font-size="30.1" text-anchor="middle"><tspan font-style="italic">n/m</tspan>* (x10<tspan font-size="19" dy="-11.5">51</tspan><tspan dy="11.5">kg</tspan><tspan font-size="19" dy="-11.5">-1</tspan><tspan dy="11.5">cm</tspan><tspan font-size="19" dy="-11.5">-3</tspan><tspan dy="11.5">)</tspan></text>
<text transform="translate(1354,35.6) scale(1,1.03)" font-size="41.5" text-anchor="start">(c)</text>
</g>
<g transform="translate(1628,338.5)" opacity="0.95"><rect x="-8.2" y="-8.2" width="16.4" height="16.4" rx="1.3" fill="#e00c0a" stroke="#a80c0c" stroke-width="0.6"/><rect x="-4.8" y="-4.9" width="9.6" height="9.8" fill="#fff"/><path d="M-3.8,-0.2 H3.8 M0,-0.2 V4.9" stroke="#a80c0c" stroke-width="2" stroke-linecap="round" fill="none"/></g>
<g transform="translate(1696,336.5)" opacity="0.95"><rect x="-8.2" y="-8.2" width="16.4" height="16.4" rx="1.3" fill="#e00c0a" stroke="#a80c0c" stroke-width="0.6"/><rect x="-4.8" y="-4.9" width="9.6" height="9.8" fill="#fff"/><path d="M-3.8,-0.2 H3.8 M0,-0.2 V4.9" stroke="#a80c0c" stroke-width="2" stroke-linecap="round" fill="none"/></g>
<g transform="translate(1721.5,340)" opacity="0.95"><rect x="-8.2" y="-8.2" width="16.4" height="16.4" rx="1.3" fill="#e00c0a" stroke="#a80c0c" stroke-width="0.6"/><rect x="-4.8" y="-4.9" width="9.6" height="9.8" fill="#fff"/><path d="M-3.8,-0.2 H3.8 M0,-0.2 V4.9" stroke="#a80c0c" stroke-width="2" stroke-linecap="round" fill="none"/></g>
<g transform="translate(1736,325.5)" opacity="0.95"><rect x="-8.2" y="-8.2" width="16.4" height="16.4" rx="1.3" fill="#e00c0a" stroke="#a80c0c" stroke-width="0.6"/><rect x="-4.8" y="-4.9" width="9.6" height="9.8" fill="#fff"/><path d="M-3.8,-0.2 H3.8 M0,-0.2 V4.9" stroke="#a80c0c" stroke-width="2" stroke-linecap="round" fill="none"/></g>
<g transform="translate(1741.5,232)" opacity="0.95"><rect x="-8.2" y="-8.2" width="16.4" height="16.4" rx="1.3" fill="#e00c0a" stroke="#a80c0c" stroke-width="0.6"/><rect x="-4.8" y="-4.9" width="9.6" height="9.8" fill="#fff"/><path d="M-3.8,-0.2 H3.8 M0,-0.2 V4.9" stroke="#a80c0c" stroke-width="2" stroke-linecap="round" fill="none"/></g>
<g transform="translate(1756,170.5)" opacity="0.95"><rect x="-8.2" y="-8.2" width="16.4" height="16.4" rx="1.3" fill="#e00c0a" stroke="#a80c0c" stroke-width="0.6"/><rect x="-4.8" y="-4.9" width="9.6" height="9.8" fill="#fff"/><path d="M-3.8,-0.2 H3.8 M0,-0.2 V4.9" stroke="#a80c0c" stroke-width="2" stroke-linecap="round" fill="none"/></g>
<g transform="translate(1827,108)" opacity="0.95"><rect x="-8.2" y="-8.2" width="16.4" height="16.4" rx="1.3" fill="#e00c0a" stroke="#a80c0c" stroke-width="0.6"/><rect x="-4.8" y="-4.9" width="9.6" height="9.8" fill="#fff"/><path d="M-3.8,-0.2 H3.8 M0,-0.2 V4.9" stroke="#a80c0c" stroke-width="2" stroke-linecap="round" fill="none"/></g>
<g transform="translate(1866.5,123)" opacity="0.95"><rect x="-8.2" y="-8.2" width="16.4" height="16.4" rx="1.3" fill="#e00c0a" stroke="#a80c0c" stroke-width="0.6"/><rect x="-4.8" y="-4.9" width="9.6" height="9.8" fill="#fff"/><path d="M-3.8,-0.2 H3.8 M0,-0.2 V4.9" stroke="#a80c0c" stroke-width="2" stroke-linecap="round" fill="none"/></g>
<g transform="translate(1546.5,342)" opacity="0.95"><rect x="-8.2" y="-8.2" width="16.4" height="16.4" rx="1.3" fill="#1a08f0" stroke="#1400b0" stroke-width="0.6"/><rect x="-4.8" y="-4.9" width="9.6" height="9.8" fill="#fff"/><path d="M-3.8,-0.2 H3.8 M0,-0.2 V4.9" stroke="#1400b0" stroke-width="2" stroke-linecap="round" fill="none"/></g>
<g transform="translate(1693,312.5)" opacity="0.95"><rect x="-8.2" y="-8.2" width="16.4" height="16.4" rx="1.3" fill="#1a08f0" stroke="#1400b0" stroke-width="0.6"/><rect x="-4.8" y="-4.9" width="9.6" height="9.8" fill="#fff"/><path d="M-3.8,-0.2 H3.8 M0,-0.2 V4.9" stroke="#1400b0" stroke-width="2" stroke-linecap="round" fill="none"/></g>
<g transform="translate(1707.5,270)" opacity="0.95"><rect x="-8.2" y="-8.2" width="16.4" height="16.4" rx="1.3" fill="#1a08f0" stroke="#1400b0" stroke-width="0.6"/><rect x="-4.8" y="-4.9" width="9.6" height="9.8" fill="#fff"/><path d="M-3.8,-0.2 H3.8 M0,-0.2 V4.9" stroke="#1400b0" stroke-width="2" stroke-linecap="round" fill="none"/></g>
<g transform="translate(1727,96.5)" opacity="0.95"><rect x="-8.2" y="-8.2" width="16.4" height="16.4" rx="1.3" fill="#1a08f0" stroke="#1400b0" stroke-width="0.6"/><rect x="-4.8" y="-4.9" width="9.6" height="9.8" fill="#fff"/><path d="M-3.8,-0.2 H3.8 M0,-0.2 V4.9" stroke="#1400b0" stroke-width="2" stroke-linecap="round" fill="none"/></g>
<g transform="translate(1736.5,102)" opacity="0.95"><rect x="-8.2" y="-8.2" width="16.4" height="16.4" rx="1.3" fill="#1a08f0" stroke="#1400b0" stroke-width="0.6"/><rect x="-4.8" y="-4.9" width="9.6" height="9.8" fill="#fff"/><path d="M-3.8,-0.2 H3.8 M0,-0.2 V4.9" stroke="#1400b0" stroke-width="2" stroke-linecap="round" fill="none"/></g>
<g transform="translate(1798.5,116)" opacity="0.95"><rect x="-8.2" y="-8.2" width="16.4" height="16.4" rx="1.3" fill="#1a08f0" stroke="#1400b0" stroke-width="0.6"/><rect x="-4.8" y="-4.9" width="9.6" height="9.8" fill="#fff"/><path d="M-3.8,-0.2 H3.8 M0,-0.2 V4.9" stroke="#1400b0" stroke-width="2" stroke-linecap="round" fill="none"/></g>
<g transform="translate(1832.2,120.5)" opacity="0.95"><rect x="-8.2" y="-8.2" width="16.4" height="16.4" rx="1.3" fill="#1a08f0" stroke="#1400b0" stroke-width="0.6"/><rect x="-4.8" y="-4.9" width="9.6" height="9.8" fill="#fff"/><path d="M-3.8,-0.2 H3.8 M0,-0.2 V4.9" stroke="#1400b0" stroke-width="2" stroke-linecap="round" fill="none"/></g>
<g transform="translate(1852.5,123.5)" opacity="0.95"><rect x="-8.2" y="-8.2" width="16.4" height="16.4" rx="1.3" fill="#1a08f0" stroke="#1400b0" stroke-width="0.6"/><rect x="-4.8" y="-4.9" width="9.6" height="9.8" fill="#fff"/><path d="M-3.8,-0.2 H3.8 M0,-0.2 V4.9" stroke="#1400b0" stroke-width="2" stroke-linecap="round" fill="none"/></g>
<use href="#curve-c" stroke="#6e6e6e" opacity="0.3"/>
<path d="M1630.8,118.3 L1638.8,110.8 L1638.8,114.15 L1675.8,114.15 L1675.8,122.45 L1638.8,122.45 L1638.8,125.8 Z" fill="url(#purp)" stroke="#6a1aa8" stroke-width="0.7" stroke-linejoin="miter"/>
<path d="M1840.8,179.4 L1832.8,171.9 L1832.8,175.25 L1796.8,175.25 L1796.8,183.55 L1832.8,183.55 L1832.8,186.9 Z" fill="#b6b6b6" stroke="#b6b6b6" stroke-width="0.7"/>
</g>
</svg></body></html>
